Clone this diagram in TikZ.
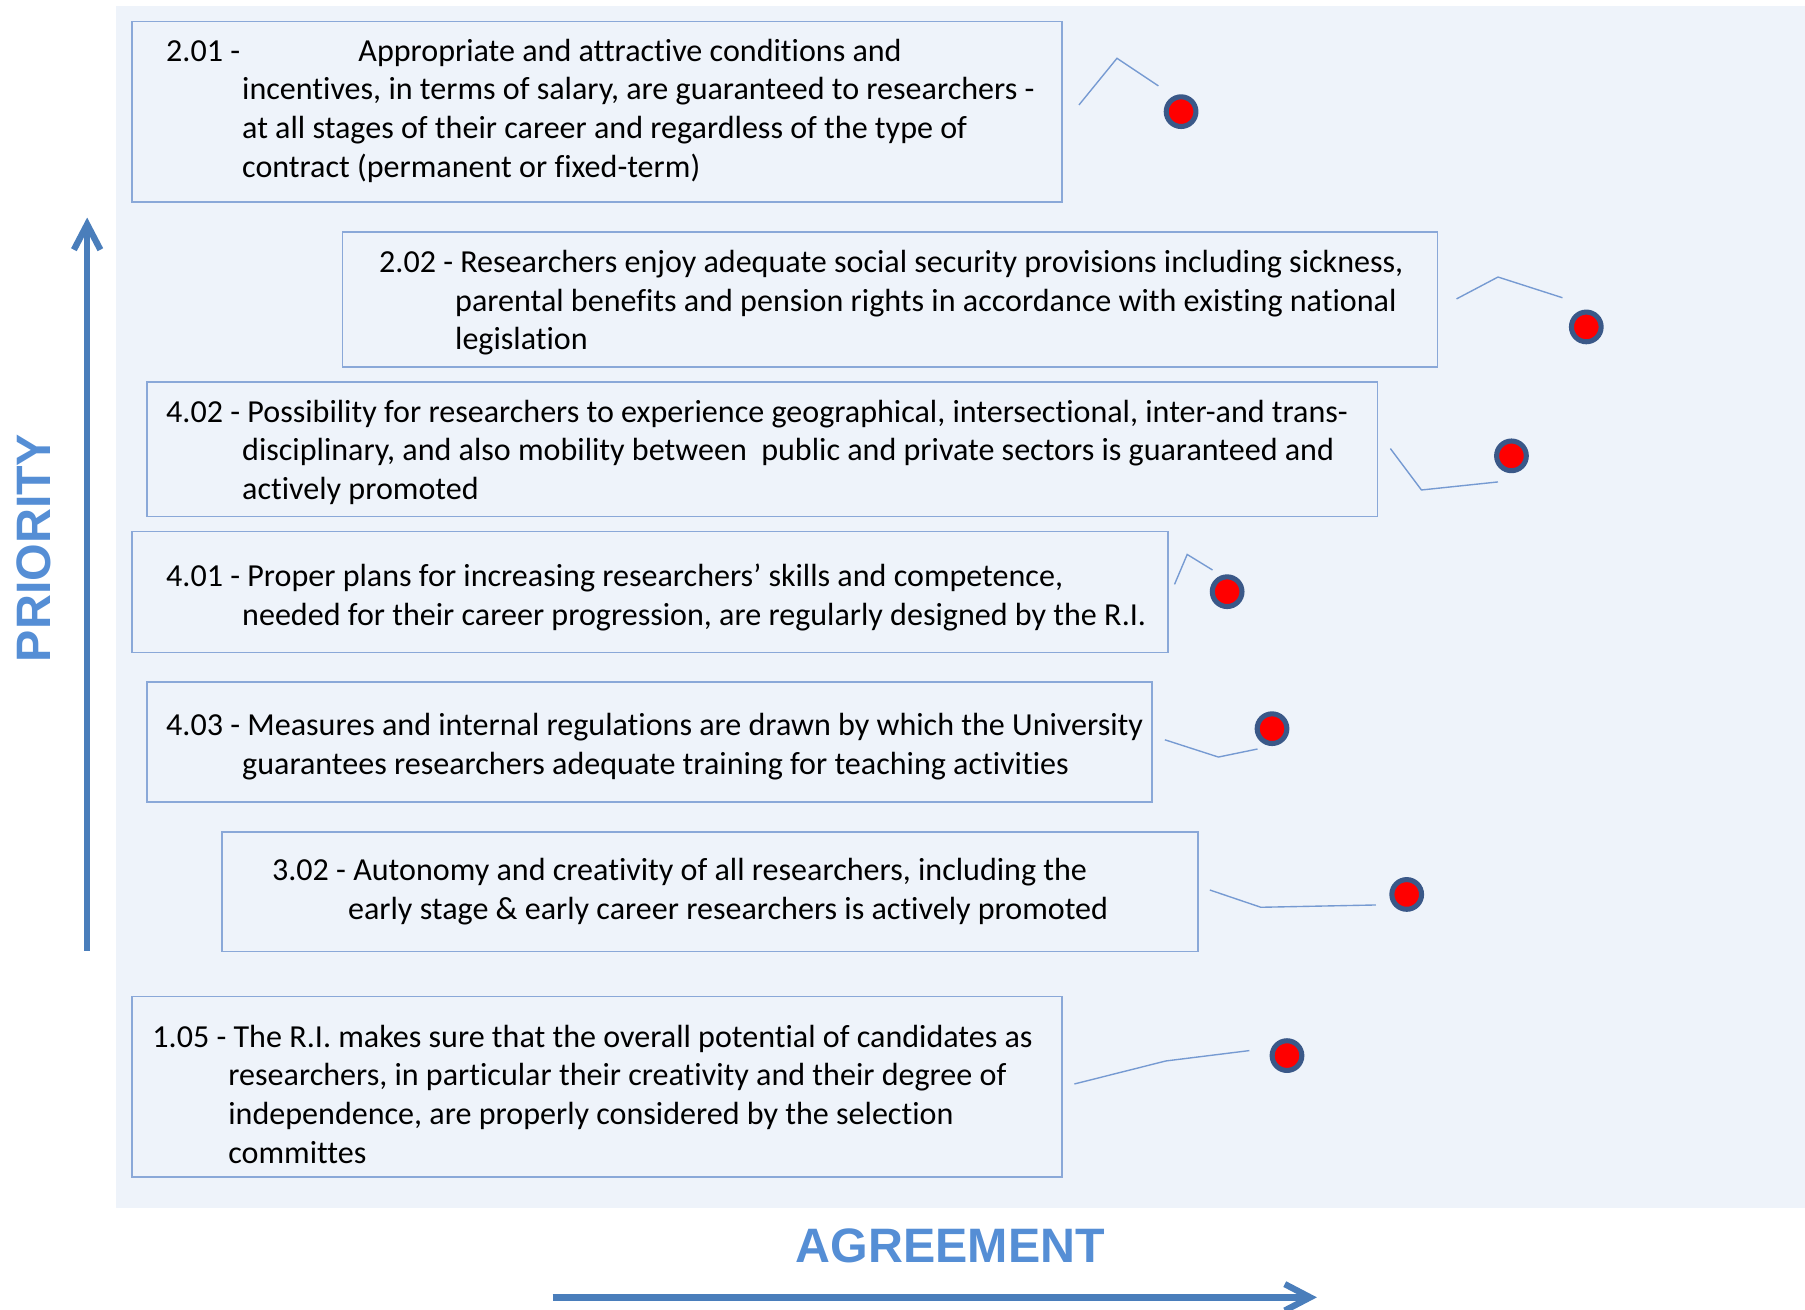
\documentclass[tikz,border=0pt]{standalone}
\usepackage{fontspec}
\setmainfont{Carlito}[Ligatures=CommonOff]
\newfontfamily\axisfont{Liberation Sans}
\usetikzlibrary{positioning,calc,arrows.meta}

\definecolor{bgfill}{RGB}{238,243,250}
\definecolor{boxline}{RGB}{138,168,216}
\definecolor{leadline}{RGB}{118,154,210}
\definecolor{dotline}{RGB}{58,88,136}
\definecolor{axisblue}{RGB}{74,126,187}
\definecolor{labelblue}{RGB}{85,142,213}

\newcommand{\nextln}{\\\hspace*{33pt}}

\tikzset{
  item/.style={draw=boxline, line width=0.65pt, rectangle, anchor=north west},
  stmt/.style={align=left, inner sep=0pt,
    font=\fontsize{13.93pt}{16.75pt}\selectfont},
  dot/.style={circle, fill=red, draw=dotline, line width=2.2pt,
    minimum size=12.9pt, inner sep=0pt},
  leader/.style={draw=leadline, line width=0.6pt},
  axis/.style={draw=axisblue, line width=2.75pt,
    -{Straight Barb[length=11pt,width=11.5pt]}},
  axislabel/.style={text=labelblue, font=\axisfont\bfseries\fontsize{21pt}{24pt}\selectfont}
}

\begin{document}
\begin{tikzpicture}[x=0.5pt,y=-0.5pt]
  \useasboundingbox (0,0) rectangle (1568,1138);
  \fill[bgfill] (101,5) rectangle (1568,1049);

  % statement boxes
  \node[item, minimum width=404pt, minimum height=78.5pt] (b1) at (114,18) {};
  \node[item, minimum width=475.5pt, minimum height=58.5pt] (b2) at (297,201) {};
  \node[item, minimum width=534.5pt, minimum height=58.5pt] (b3) at (127,331) {};
  \node[item, minimum width=450pt, minimum height=52.5pt] (b4) at (114,461) {};
  \node[item, minimum width=436.5pt, minimum height=52pt] (b5) at (127,592) {};
  \node[item, minimum width=424pt, minimum height=52pt] (b6) at (192,722) {};
  \node[item, minimum width=404pt, minimum height=78.5pt] (b7) at (114,865) {};

  % statement texts
  \node[stmt, right=15pt of b1.west, yshift=0.5pt] (t1) {\makebox[83.5pt][l]{2.01 -}Appropriate and attractive conditions and\nextln
    incentives, in terms of salary, are guaranteed to researchers -\nextln
    at all stages of their career and regardless of the type of\nextln
    contract (permanent or fixed-term)};
  \node[stmt, right=16pt of b2.west, yshift=-1.5pt] (t2) {2.02 - Researchers enjoy adequate social security provisions including sickness,\nextln
    parental benefits and pension rights in accordance with existing national\nextln
    legislation};
  \node[stmt, right=8.5pt of b3.west, yshift=-1.3pt] (t3) {4.02 - Possibility for researchers to experience geographical, intersectional, inter-and trans-\nextln
    disciplinary, and also mobility between \ public and private sectors is guaranteed and\nextln
    actively promoted};
  \node[stmt, right=15pt of b4.west, yshift=-2.5pt] (t4) {4.01 - Proper plans for increasing researchers’ skills and competence,\nextln
    needed for their career progression, are regularly designed by the R.I.};
  \node[stmt, right=8.5pt of b5.west, yshift=-2pt] (t5) {4.03 - Measures and internal regulations are drawn by which the University\nextln
    guarantees researchers adequate training for teaching activities};
  \node[stmt, right=22pt of b6.west] (t6) {3.02 - Autonomy and creativity of all researchers, including the\nextln
    early stage \& early career researchers is actively promoted};
  \node[stmt, right=9pt of b7.west, yshift=-3.2pt] (t7) {1.05 - The R.I. makes sure that the overall potential of candidates as\nextln
    researchers, in particular their creativity and their degree of\nextln
    independence, are properly considered by the selection\nextln
    committes};

  % scores
  \node[dot] (p1) at (1026,97) {};
  \node[dot] (p2) at (1378,284) {};
  \node[dot] (p3) at (1313,396) {};
  \node[dot] (p4) at (1066,514) {};
  \node[dot] (p5) at (1105,633) {};
  \node[dot] (p6) at (1222,777) {};
  \node[dot] (p7) at (1118,917) {};

  % leader lines
  \coordinate (k1) at ($(b1.east)+(14,-6)$);
  \coordinate (k2) at ($(b2.east)+(16,-0.5)$);
  \coordinate (k3) at ($(b3.east)+(10.5,-0.5)$);
  \coordinate (k4) at ($(b4.east)+(5,-6.5)$);
  \coordinate (k5) at ($(b5.east)+(10.6,-2)$);
  \coordinate (k6) at ($(b6.east)+(9.7,-1.5)$);
  \coordinate (k7) at ($(b7.east)+(10,-2.5)$);
  \draw[leader] (k1) -- ++(33,-40.5) -- ++(36,24);
  \draw[leader] (k2) -- ++(36,-19) -- ++(56,18);
  \draw[leader] (k3) -- ++(27,36) -- ++(66.5,-7);
  \draw[leader] (k4) -- ++(11,-26) -- ++(22,13.5);
  \draw[leader] (k5) -- ++(46.5,15) -- ++(34,-7);
  \draw[leader] (k6) -- ++(44.3,15) -- ++(100,-2);
  \draw[leader] (k7) -- ++(79.5,-20) -- ++(72.5,-9);

  % axes
  \node[axislabel, rotate=90] (prio) at (29,476) {PRIORITY};
  \node[axislabel] (agree) at (825.5,1082) {AGREEMENT};
  \coordinate (y0) at (75.7,826);
  \coordinate (y1) at (75.7,189);
  \coordinate (x0) at (480,1127);
  \coordinate (x1) at (1144,1127);
  \draw[axis] (y0) -- (y1);
  \draw[axis] (x0) -- (x1);
\end{tikzpicture}
\end{document}
